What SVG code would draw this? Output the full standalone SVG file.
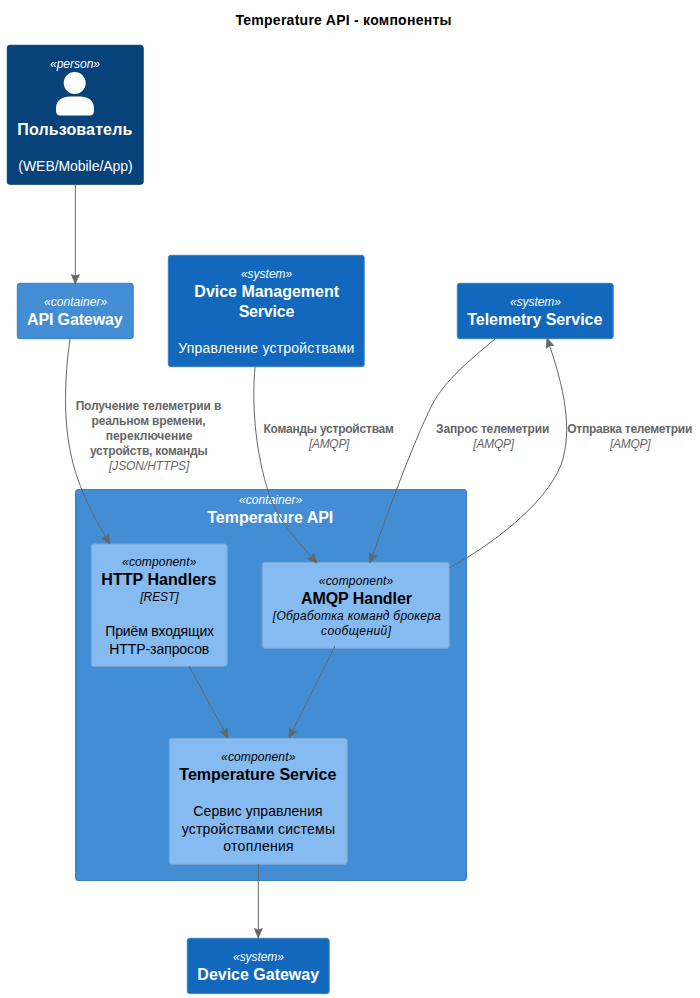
<svg xmlns="http://www.w3.org/2000/svg" width="700" height="998" viewBox="0 0 700 998">
<style>
text{font-family:"Liberation Sans",Arial,sans-serif;text-anchor:middle}
.st{font-size:12px;font-style:italic}
.nm{font-size:16px;font-weight:bold}
.ds{font-size:14px}
.tc{font-size:12px;font-style:italic}
.w{fill:#FFFFFF}
.k{fill:#000000}
.lb{font-size:12px;font-weight:bold;fill:#666666}
.lt{font-size:12px;font-style:italic;fill:#666666}
.per{fill:#08427B;stroke:#073B6F}
.con{fill:#438DD5;stroke:#3C7FC0}
.sys{fill:#1168BD;stroke:#3C7FC0}
.cmp{fill:#85BBF0;stroke:#78A8D8}
.ln{fill:none;stroke:#666666;stroke-width:1;marker-end:url(#ah)}
</style>
<defs>
<marker id="ah" markerUnits="userSpaceOnUse" markerWidth="12" markerHeight="10" refX="10" refY="5" orient="auto">
<path d="M0.500,1 L10,5 L0.500,9 L2,5 Z" fill="#666666" stroke="#666666" stroke-width="0.700"/>
</marker>
</defs>
<rect width="700" height="998" fill="#FFFFFF"/>
<text id="title" x="343.500" y="25" font-size="14" font-weight="bold" class="k" textLength="216">Temperature API - компоненты</text>

<g id="boundary-temperature-api">
<rect class="con" x="75.500" y="489.500" width="391" height="391" rx="2.500"/>
<text class="st w" x="270.600" y="504" textLength="63.300">«container»</text>
<text class="nm w" x="270.300" y="523" textLength="126">Temperature API</text>
</g>

<g id="person-user">
<rect class="per" x="7.300" y="45.300" width="135.900" height="139" rx="2.500"/>
<text class="st w" x="75" y="68" textLength="50">«person»</text>
<circle cx="74.700" cy="83" r="11" fill="#FFFFFF"/>
<path d="M56,111 V108 C56,100 63,96.500 70,96.500 H80 C87,96.500 94,100 94,108 V111 C94,114 92,115.500 90,115.500 H60 C58,115.500 56,114 56,111 Z" fill="#FFFFFF"/>
<text class="nm w" x="74.800" y="135" textLength="115">Пользователь</text>
<text class="ds w" x="75.500" y="171" textLength="114.300">(WEB/Mobile/App)</text>
</g>

<g id="api-gateway">
<rect class="con" x="17.300" y="283.300" width="115.900" height="55.400" rx="2.500"/>
<text class="st w" x="75.600" y="306" textLength="63.300">«container»</text>
<text class="nm w" x="74.800" y="325" textLength="95.700">API Gateway</text>
</g>

<g id="device-management-service">
<rect class="sys" x="168.300" y="255.300" width="195.900" height="111.400" rx="2.500"/>
<text class="st w" x="266.600" y="278" textLength="51.300">«system»</text>
<text class="nm w" x="266.700" y="297" textLength="144.700">Dvice Management</text>
<text class="nm w" x="266.500" y="317" textLength="55.700">Service</text>
<text class="ds w" x="266.300" y="353" textLength="176">Управление устройствами</text>
</g>

<g id="telemetry-service">
<rect class="sys" x="457.300" y="283.300" width="155.900" height="55.400" rx="2.500"/>
<text class="st w" x="535.500" y="306" textLength="51">«system»</text>
<text class="nm w" x="534.800" y="325" textLength="135">Telemetry Service</text>
</g>

<g id="http-handlers">
<rect class="cmp" x="91.300" y="544" width="135.900" height="122.300" rx="2.500"/>
<text class="st k" x="159.200" y="566" textLength="74.300">«component»</text>
<text class="nm k" x="158.800" y="585" textLength="115">HTTP Handlers</text>
<text class="tc k" x="159.500" y="601" textLength="38.300">[REST]</text>
<text class="ds k" x="159.700" y="636" textLength="108.700">Приём входящих</text>
<text class="ds k" x="159.300" y="654" textLength="100">HTTP-запросов</text>
</g>

<g id="amqp-handler">
<rect class="cmp" x="262.300" y="562.400" width="186.900" height="85.900" rx="2.500"/>
<text class="st k" x="356" y="585" textLength="74.300">«component»</text>
<text class="nm k" x="356.500" y="604" textLength="111">AMQP Handler</text>
<text class="tc k" x="356.800" y="620" textLength="168">[Обработка команд брокера</text>
<text class="tc k" x="356" y="635" textLength="70">сообщений]</text>
</g>

<g id="temperature-service">
<rect class="cmp" x="169.300" y="738.400" width="177.900" height="125.900" rx="2.500"/>
<text class="st k" x="258.200" y="761" textLength="74.300">«component»</text>
<text class="nm k" x="257.800" y="780" textLength="157">Temperature Service</text>
<text class="ds k" x="258" y="816" textLength="129.300">Сервис управления</text>
<text class="ds k" x="258.300" y="834" textLength="153.300">устройствами системы</text>
<text class="ds k" x="258.500" y="851" textLength="70.300">отопления</text>
</g>

<g id="device-gateway">
<rect class="sys" x="187.300" y="938.300" width="141.900" height="55.300" rx="2.500"/>
<text class="st w" x="258.500" y="961" textLength="51">«system»</text>
<text class="nm w" x="258.200" y="980" textLength="121.700">Device Gateway</text>
</g>

<g id="connectors">
<path class="ln" d="M75.300,184 V284"/>
<path class="ln" d="M70,339 C64,380 64,420 70,450 C76,483 92,515 110,544"/>
<path class="ln" d="M255,367 C252,400 254,450 270,497 C278,520 298,542 317,563"/>
<path class="ln" d="M495,339 C470,360 445,380 432,405 C412,445 385,520 370,563"/>
<path class="ln" d="M449,568 C490,546 545,505 561,465 C573,430 565,390 547,338"/>
<path class="ln" d="M189,666 L228,738"/>
<path class="ln" d="M335,646 L289,738"/>
<path class="ln" d="M258.300,864 V938"/>
</g>

<g id="connector-labels">
<text class="lb" x="148.500" y="410" textLength="145.700">Получение телеметрии в</text>
<text class="lb" x="148.500" y="425" textLength="114">реальном времени,</text>
<text class="lb" x="149" y="440" textLength="86.700">переключение</text>
<text class="lb" x="148.800" y="455" textLength="117.700">устройств, команды</text>
<text class="lt" x="149.200" y="470" textLength="80.300">[JSON/HTTPS]</text>
<text class="lb" x="328.700" y="433" textLength="130.500">Команды устройствам</text>
<text class="lt" x="329.200" y="448" textLength="40.500">[AMQP]</text>
<text class="lb" x="492.700" y="433" textLength="113.300">Запрос телеметрии</text>
<text class="lt" x="493.700" y="448" textLength="40.700">[AMQP]</text>
<text class="lb" x="629.800" y="433" textLength="125">Отправка телеметрии</text>
<text class="lt" x="630.300" y="448" textLength="40.700">[AMQP]</text>
</g>
</svg>
